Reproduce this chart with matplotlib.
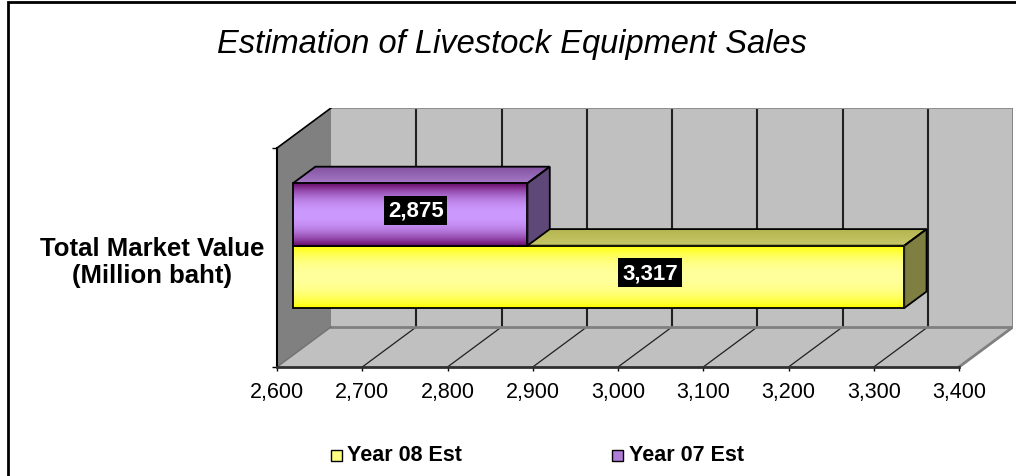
import numpy as np
import matplotlib
matplotlib.use('Agg')
import matplotlib.pyplot as plt
from matplotlib.patches import Polygon, Rectangle
from matplotlib.colors import to_rgb

plt.rcParams['font.family'] = ['Liberation Sans', 'DejaVu Sans']

# ---------------- data ----------------
title = 'Estimation of Livestock Equipment Sales'
category = 'Total Market Value\n(Million baht)'
series_names = ['Year 08 Est', 'Year 07 Est']      # bottom bar first
series_values = [3317, 2875]
value_labels = ['3,317', '2,875']
x_ticks = [2600, 2700, 2800, 2900, 3000, 3100, 3200, 3300, 3400]
x_tick_labels = ['2,600', '2,700', '2,800', '2,900', '3,000',
                 '3,100', '3,200', '3,300', '3,400']

# ---------------- style ----------------
front_cols = [('#ffff00', '#ffff9c'), ('#660866', '#cc99ff')]   # (edge, middle)
top_cols = [('#b4b450', '#c8c86a'), ('#82529e', '#a678c8')]     # (back, front)
side_cols = ['#7f7f42', '#5e4878']
legend_cols = ['#ffff80', '#b07cd8']
label_frac = [0.575, 0.5]

W, H, DPI = 1016, 477, 100
fig = plt.figure(figsize=(W / DPI, H / DPI), dpi=DPI)

# axes geometry (pixels)
ax_l, ax_r, ax_b, ax_t = 277, 1013, 368, 109
front_r = 959
xmin, xmax = x_ticks[0], x_ticks[-1]
PX = (front_r - ax_l) / (xmax - xmin)          # px per value unit
PY = 219.0                                     # px per category unit
DX = 54 / PX
DY = 40 / PY
ax = fig.add_axes([ax_l / W, (H - ax_b) / H, (ax_r - ax_l) / W, (ax_b - ax_t) / H])
ax.set_autoscale_on(False)
ax.set_xlim(xmin, xmin + (ax_r - ax_l) / PX)
ax.set_ylim(0, (ax_b - ax_t) / PY)
for s in ax.spines.values():
    s.set_visible(False)
ax.patch.set_visible(False)


def P(x, y, d):
    return (x + d * DX, y + d * DY)


def poly(pts, **kw):
    p = Polygon(pts, closed=True, **kw)
    ax.add_patch(p)
    return p


# walls and floor
poly([P(xmin, 0, 1), P(xmax, 0, 1), P(xmax, 1, 1), P(xmin, 1, 1)],
     fc='#c0c0c0', ec='none', zorder=0)
poly([P(xmin, 0, 0), P(xmin, 1, 0), P(xmin, 1, 1), P(xmin, 0, 1)],
     fc='#808080', ec='none', zorder=0)
poly([P(xmin, 0, 0), P(xmax, 0, 0), P(xmax, 0, 1), P(xmin, 0, 1)],
     fc='#c0c0c0', ec='none', zorder=0)

# gridlines
for t in x_ticks[1:-1]:
    ax.plot([t + DX, t + DX], [DY, 1 + DY], color='#202020', lw=1.5, zorder=1)
    ax.plot([t, t + DX], [0, DY], color='#202020', lw=0.9, zorder=1)
# wall edges
ax.plot([xmin + DX, xmax + DX], [DY, DY], color='#808080', lw=2, zorder=1)
ax.plot([xmin + DX, xmax + DX], [1 + DY, 1 + DY], color='#909090', lw=1.5, zorder=1)
ax.plot([xmax + DX, xmax + DX], [DY, 1 + DY], color='#808080', lw=2, zorder=1)
ax.plot([xmax, xmax + DX], [0, DY], color='#808080', lw=2, zorder=1)
ax.plot([xmin, xmin + DX], [0, DY], color='#707070', lw=1, zorder=1)
ax.plot([xmin, xmin + DX], [1, 1 + DY], color='#000000', lw=1.2, zorder=1)
ax.plot([xmin, xmin], [0, 1], color='black', lw=1.5, zorder=2, clip_on=False)
ax.plot([xmin, xmax], [0, 0], color='#303030', lw=2, zorder=2, clip_on=False)


def grad_img(c_a, c_b, n=128, mode='mid', power=2.0):
    t = np.linspace(0, 1, n)
    a = np.array(to_rgb(c_a))
    b = np.array(to_rgb(c_b))
    if mode == 'mid':
        w = np.abs(2 * t - 1) ** power
        rgb = b[None, :] + (a - b)[None, :] * w[:, None]
    else:
        rgb = a[None, :] + (b - a)[None, :] * t[:, None]
    return rgb[:, None, :]


# bars
n = len(series_values)
bh = 0.285
gap = (1 - n * bh) / 2
d0, d1 = 0.296, 0.71
for i, (v, lab) in enumerate(zip(series_values, value_labels)):
    yb = gap + i * bh
    yt = yb + bh
    z = 3 + 2 * i
    # top face
    top = [P(xmin, yt, d0), P(v, yt, d0), P(v, yt, d1), P(xmin, yt, d1)]
    tp = poly(top, fc='none', ec='none', zorder=z)
    im = ax.imshow(grad_img(top_cols[i][1], top_cols[i][0], mode='lin'),
                   extent=[xmin + d0 * DX, v + d1 * DX, yt + d0 * DY, yt + d1 * DY],
                   origin='lower', aspect='auto', zorder=z, interpolation='bilinear')
    im.set_clip_path(tp)
    poly(top, fill=False, ec='black', lw=1.3, zorder=z + 0.5)
    # side face
    side = [P(v, yb, d0), P(v, yt, d0), P(v, yt, d1), P(v, yb, d1)]
    poly(side, fc=side_cols[i], ec='black', lw=1.3, zorder=z)
    # front face
    fx0, fy0 = P(xmin, yb, d0)
    fx1, fy1 = P(v, yt, d0)
    ax.imshow(grad_img(front_cols[i][0], front_cols[i][1], mode='mid', power=2.2),
              extent=[fx0, fx1, fy0, fy1], origin='lower', aspect='auto',
              zorder=z + 0.6, interpolation='bilinear')
    poly([(fx0, fy0), (fx1, fy0), (fx1, fy1), (fx0, fy1)], fill=False,
         ec='black', lw=1.3, zorder=z + 0.7)
    # value label
    lx, ly = P(xmin + (v - xmin) * label_frac[i], (yb + yt) / 2, 0.4)
    ax.text(lx, ly, lab, color='white', fontsize=16, fontweight='bold',
            ha='center', va='center', zorder=20,
            bbox=dict(boxstyle='square,pad=0.17', fc='black', ec='none'))

# ticks
ax.set_xticks(x_ticks)
ax.set_xticklabels(x_tick_labels, fontsize=15.5)
ax.tick_params(axis='x', direction='out', length=3.2, width=1, color='black', pad=7)
ax.set_yticks([0, 1])
ax.set_yticklabels(['', ''])
ax.tick_params(axis='y', which='major', direction='out', length=3.6, width=1, color='black')
ax.set_yticks([0.5], minor=True)
ax.set_yticklabels([category], minor=True, fontsize=18.5, fontweight='bold',
                   multialignment='center', linespacing=1.15)
ax.tick_params(axis='y', which='minor', length=0, pad=9)

# title
fig.text(512 / W, (H - 53) / H, title, fontsize=23.5, fontstyle='italic',
         ha='center', va='baseline')

# legend
leg_sq_x = [331, 612]
leg_tx_x = [347, 629]
leg_y = 456
for name, col, sx, tx in zip(series_names, legend_cols, leg_sq_x, leg_tx_x):
    fig.patches.append(Rectangle((sx / W, (H - leg_y - 5.5) / H), 11 / W, 11 / H,
                                 transform=fig.transFigure, fc=col, ec='black', lw=1))
    fig.text(tx / W, (H - leg_y) / H, name, fontsize=15.5, fontweight='bold',
             ha='left', va='center')

# chart border
fig.patches.append(Rectangle((8 / W, -0.2), 1.5, (H - 3) / H + 0.2,
                             transform=fig.transFigure, fill=False, ec='black', lw=2))

fig.savefig('out.png', dpi=DPI)
